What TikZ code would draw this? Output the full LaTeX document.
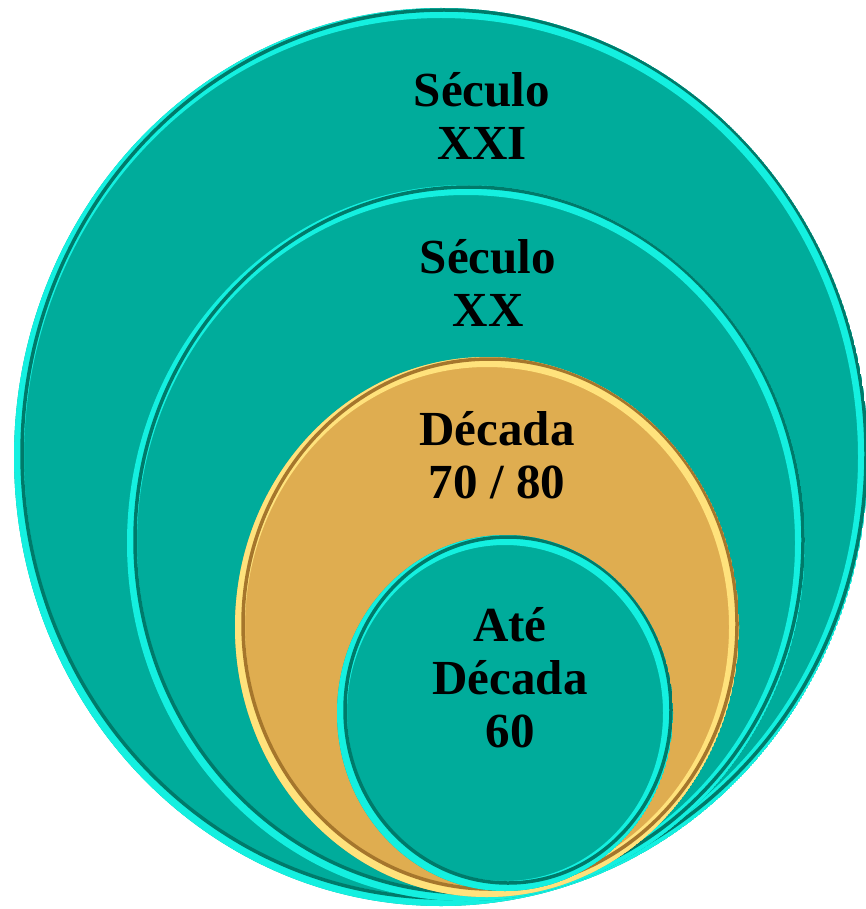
\documentclass[tikz,border=0pt]{standalone}
\usepackage{fontspec}
\setmainfont{Liberation Serif}
\definecolor{tealbase}{HTML}{00AC9B}
\definecolor{teallight}{HTML}{14F0E0}
\definecolor{tealdark}{HTML}{007A6A}
\definecolor{goldbase}{HTML}{DFAD50}
\definecolor{goldlight}{HTML}{FFE27C}
\definecolor{golddark}{HTML}{A5762C}
\begin{document}
\begin{tikzpicture}[x=1pt,y=-1pt,
    era text/.style={font=\fontsize{49}{53}\selectfont\bfseries,
      align=center,inner sep=0pt}]
  \useasboundingbox (0,0) rectangle (866,909);
  \foreach \cx/\cy/\rx/\ry/\base/\hi/\lo in {
      441/457/427/449/tealbase/teallight/tealdark,
      466/543/339/358/tealbase/teallight/tealdark,
      487/627/252/270/goldbase/goldlight/golddark,
      505/713/168/178/tealbase/teallight/tealdark}{
    \begin{scope}
      \clip (\cx,\cy) ellipse ({\rx} and {\ry});
      \fill[\base] (\cx,\cy) ellipse ({\rx} and {\ry});
      \draw[\hi,line width=10pt] (\cx,\cy) ellipse ({\rx-5} and {\ry-5});
      \draw[\lo,line width=3.5pt] (\cx+3,\cy-3) ellipse ({\rx-5} and {\ry-5});
    \end{scope}
  }
  \node[era text] (xxi) at (482,116) {Século\\XXI};
  \node[era text] (xx) at (488,283) {Século\\XX};
  \node[era text] (dec) at (497,455) {Década\\70 / 80};
  \node[era text] (ate) at (510,678) {Até\\Década\\60};
\end{tikzpicture}
\end{document}
